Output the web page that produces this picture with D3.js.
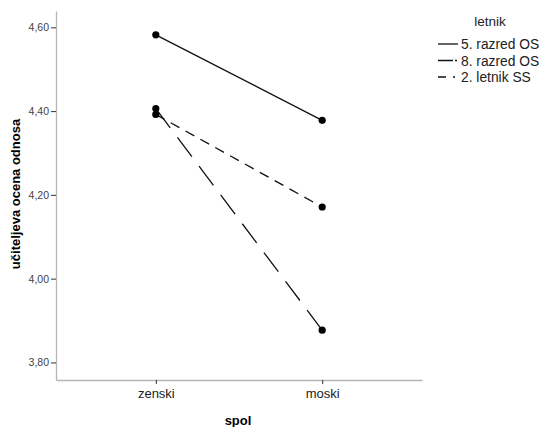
<!DOCTYPE html>
<html><head><meta charset="utf-8">
<script src="https://cdn.jsdelivr.net/npm/d3@7"></script>
<style>body{margin:0;background:#fff}svg{display:block}text{font-family:"Liberation Sans",Arial,sans-serif}</style>
</head><body><svg id="c" width="541" height="427"></svg>
<script>
const categories = ["zenski", "moski"];
const seriesNames = ["5. razred OS", "8. razred OS", "2. letnik SS"];
const s5razred = [4.582, 4.378];
const s8razred = [4.392, 4.171];
const s2letnik = [4.406, 3.877];
const yTicks = [3.8, 4.0, 4.2, 4.4, 4.6];
const yTickLabels = ["3,80", "4,00", "4,20", "4,40", "4,60"];
const seriesValues = [s5razred, s8razred, s2letnik];

const svg = d3.select("#c");
const x = d3.scalePoint().domain(categories).range([56, 422]).padding(0.6);
const y = d3.scaleLinear().domain([3.758, 4.639]).range([380, 11]);

// axes
const yAxis = svg.append("g").attr("transform", "translate(56,0)")
  .call(d3.axisLeft(y).tickValues(yTicks).tickFormat((d, i) => yTickLabels[i]).tickSize(5).tickSizeOuter(0));
yAxis.select(".domain").attr("stroke", "#b5b5b5").attr("stroke-width", 1.3);
yAxis.selectAll(".tick line").attr("stroke", "#333");
yAxis.selectAll(".tick text").attr("font-size", 10.5).attr("fill", "#444").attr("x", -7).attr("font-family", "Liberation Sans, Arial, sans-serif");

const xAxis = svg.append("g").attr("transform", "translate(0,380)")
  .call(d3.axisBottom(x).tickSize(4).tickSizeOuter(0));
xAxis.select(".domain").attr("stroke", "#b5b5b5").attr("stroke-width", 1.3);
xAxis.selectAll(".tick line").attr("stroke", "#333");
xAxis.selectAll(".tick text").attr("font-size", 13).attr("fill", "#222").attr("y", 9).attr("font-family", "Liberation Sans, Arial, sans-serif");

// axis titles
svg.append("text").attr("x", 238).attr("y", 425).attr("text-anchor", "middle")
  .attr("font-size", 13).attr("font-weight", "bold").text("spol");
svg.append("text").attr("transform", "translate(20,194) rotate(-90)").attr("text-anchor", "middle")
  .attr("font-size", 13).attr("font-weight", "bold").text("učiteljeva ocena odnosa");

// lines
const dashes = [null, "10,7", "24,12"];
const line = d3.line().x((d, i) => x(categories[i])).y(d => y(d));
seriesValues.forEach((vals, k) => {
  svg.append("path").datum(vals).attr("d", line).attr("fill", "none")
    .attr("stroke", "#111").attr("stroke-width", 1.3)
    .attr("stroke-dasharray", dashes[k]);
});
seriesValues.forEach((vals) => {
  svg.selectAll(null).data(vals).enter().append("circle")
    .attr("cx", (d, i) => x(categories[i])).attr("cy", d => y(d)).attr("r", 3.6).attr("fill", "#000");
});

// legend
svg.append("text").attr("x", 490).attr("y", 26).attr("text-anchor", "middle").attr("font-size", 13.5).attr("fill", "#222").text("letnik");
const legDash = [null, "15,2,2,20", "8,7,2,20"];
seriesNames.forEach((n, k) => {
  const yy = 44 + k * 16.5;
  svg.append("line").attr("x1", 438).attr("x2", 458).attr("y1", yy).attr("y2", yy)
    .attr("stroke", "#111").attr("stroke-width", 1.3).attr("stroke-dasharray", legDash[k]);
  svg.append("text").attr("x", 461).attr("y", yy + 5).attr("font-size", 13.8).attr("fill", "#222").text(n);
});
</script></body></html>
